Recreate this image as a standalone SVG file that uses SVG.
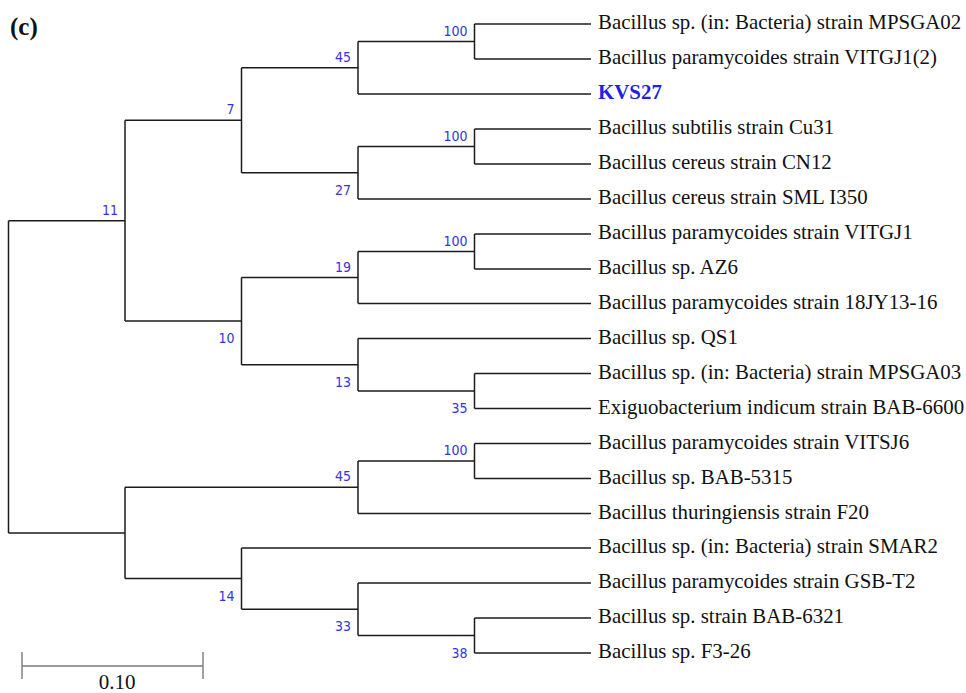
<svg xmlns="http://www.w3.org/2000/svg" width="966" height="693" viewBox="0 0 966 693">
<style>
.br{fill:none;stroke:#1c1c1c;stroke-width:1.5}
.lf{font-family:"Liberation Serif","Times New Roman",serif;font-size:20.9px;fill:#111}
.kv{font-family:"Liberation Serif","Times New Roman",serif;font-size:20.9px;font-weight:bold;fill:#1f1fe6}
.ttl{font-family:"Liberation Serif","Times New Roman",serif;font-size:25px;font-weight:bold;fill:#111}
.scl{font-family:"Liberation Serif","Times New Roman",serif;font-size:21px;fill:#111;text-anchor:middle}
.bs{font-family:"DejaVu Sans Condensed","DejaVu Sans",sans-serif;font-size:14px;fill:#3434dc;text-anchor:end}
.sc{fill:none;stroke:#7a7a7a;stroke-width:1.4}
</style>
<rect width="966" height="693" fill="#fff"/>
<text class="ttl" x="10" y="35">(c)</text>
<g id="connectors">
<path class="br" d="M8.5 220.7V532.9"/>
<path class="br" d="M8.5 220.7H125M8.5 532.9H125"/>
<path class="br" d="M125 120.25V321.1M125 120.25H241.5M125 321.1H241.5"/>
<path class="br" d="M241.5 67.75V172.75M241.5 67.75H358M241.5 172.75H358"/>
<path class="br" d="M358 41.5V94M358 41.5H474.5M358 94H591"/>
<path class="br" d="M474.5 24V59M474.5 24H591M474.5 59H591"/>
<path class="br" d="M358 146.5V199M358 146.5H474.5M358 199H591"/>
<path class="br" d="M474.5 129V164M474.5 129H591M474.5 164H591"/>
<path class="br" d="M241.5 277.5V364.75M241.5 277.5H358M241.5 364.75H358"/>
<path class="br" d="M358 251.5V303.5M358 251.5H474.5M358 303.5H591"/>
<path class="br" d="M474.5 234V269M474.5 234H591M474.5 269H591"/>
<path class="br" d="M358 338.5V391M358 338.5H591M358 391H474.5"/>
<path class="br" d="M474.5 373.5V408.5M474.5 373.5H591M474.5 408.5H591"/>
<path class="br" d="M125 487.25V578.6M125 487.25H358M125 578.6H241.5"/>
<path class="br" d="M358 461V513.5M358 461H474.5M358 513.5H591"/>
<path class="br" d="M474.5 443.5V478.5M474.5 443.5H591M474.5 478.5H591"/>
<path class="br" d="M241.5 548V609.25M241.5 548H591M241.5 609.25H358"/>
<path class="br" d="M358 583V635.5M358 583H591M358 635.5H474.5"/>
<path class="br" d="M474.5 618V653M474.5 618H591M474.5 653H591"/>
</g>
<g id="n_A"><text class="bs" x="118" y="214.7">11</text></g>
<g id="n_C"><text class="bs" x="234.5" y="114.25">7</text></g>
<g id="n_E"><text class="bs" x="351" y="61.75">45</text></g>
<g id="n_G"><text class="bs" x="467.5" y="35.5">100</text></g>
<g id="n_F"><text class="bs" x="351" y="194.75">27</text></g>
<g id="n_H"><text class="bs" x="467.5" y="140.5">100</text></g>
<g id="n_D"><text class="bs" x="234.5" y="343.1">10</text></g>
<g id="n_I"><text class="bs" x="351" y="271.5">19</text></g>
<g id="n_K"><text class="bs" x="467.5" y="245.5">100</text></g>
<g id="n_J"><text class="bs" x="351" y="386.75">13</text></g>
<g id="n_L"><text class="bs" x="467.5" y="413">35</text></g>
<g id="n_M"><text class="bs" x="351" y="481.25">45</text></g>
<g id="n_N"><text class="bs" x="467.5" y="455">100</text></g>
<g id="n_O"><text class="bs" x="234.5" y="600.6">14</text></g>
<g id="n_P"><text class="bs" x="351" y="631.25">33</text></g>
<g id="n_Q"><text class="bs" x="467.5" y="657.5">38</text></g>
<g id="leaf0"><text class="lf" x="598" y="29">Bacillus sp. (in: Bacteria) strain MPSGA02</text></g>
<g id="leaf1"><text class="lf" x="598" y="64">Bacillus paramycoides strain VITGJ1(2)</text></g>
<g id="leaf2"><text class="kv" x="598" y="99">KVS27</text></g>
<g id="leaf3"><text class="lf" x="598" y="134">Bacillus subtilis strain Cu31</text></g>
<g id="leaf4"><text class="lf" x="598" y="169">Bacillus cereus strain CN12</text></g>
<g id="leaf5"><text class="lf" x="598" y="204">Bacillus cereus strain SML I350</text></g>
<g id="leaf6"><text class="lf" x="598" y="239">Bacillus paramycoides strain VITGJ1</text></g>
<g id="leaf7"><text class="lf" x="598" y="274">Bacillus sp. AZ6</text></g>
<g id="leaf8"><text class="lf" x="598" y="308.5">Bacillus paramycoides strain 18JY13-16</text></g>
<g id="leaf9"><text class="lf" x="598" y="343.5">Bacillus sp. QS1</text></g>
<g id="leaf10"><text class="lf" x="598" y="378.5">Bacillus sp. (in: Bacteria) strain MPSGA03</text></g>
<g id="leaf11"><text class="lf" x="598" y="413.5">Exiguobacterium indicum strain BAB-6600</text></g>
<g id="leaf12"><text class="lf" x="598" y="448.5">Bacillus paramycoides strain VITSJ6</text></g>
<g id="leaf13"><text class="lf" x="598" y="483.5">Bacillus sp. BAB-5315</text></g>
<g id="leaf14"><text class="lf" x="598" y="518.5">Bacillus thuringiensis strain F20</text></g>
<g id="leaf15"><text class="lf" x="598" y="553">Bacillus sp. (in: Bacteria) strain SMAR2</text></g>
<g id="leaf16"><text class="lf" x="598" y="588">Bacillus paramycoides strain GSB-T2</text></g>
<g id="leaf17"><text class="lf" x="598" y="623">Bacillus sp. strain BAB-6321</text></g>
<g id="leaf18"><text class="lf" x="598" y="658">Bacillus sp. F3-26</text></g>
<g id="scale">
<path class="sc" d="M22 666H203M22 652V679M203 652V679"/>
<text class="scl" x="117" y="689">0.10</text>
</g>
</svg>
